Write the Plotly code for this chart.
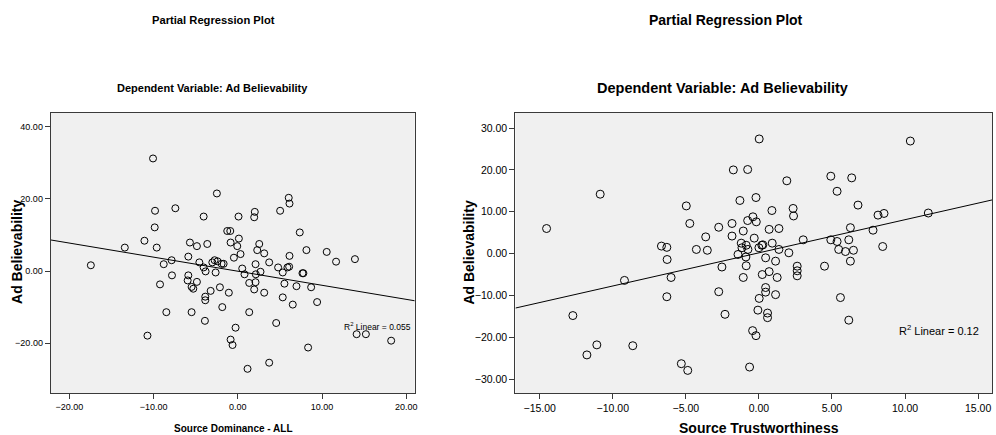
import plotly.graph_objects as go

# ---------------- data: left panel (Source Dominance - ALL) ----------------
dom_x = [-10.07, -2.49, 6.04, 6.13, -9.83, -7.42, -4.06, 0.08, 2.01, 1.94,
         5.02, -9.87, -1.26, -0.90, 7.35, -11.09, -9.63, -5.69, -4.86, -3.63,
         -0.86, 0.12, -0.07, 2.54, 2.30, 3.13, 0.32, -0.47, 6.13, 8.14,
         10.55, 11.66, -5.88, -7.86, -8.80, -4.57, -4.06, -3.83, -3.03, -2.76,
         -2.41, -1.93, -1.69, -2.64, 0.52, 0.79, 2.10, 2.13, 2.69, 3.72,
         4.78, 5.33, 5.89, 6.09, 7.67, 7.78, -7.82, -9.24, -5.88, -5.96,
         -4.86, -5.49, -5.29, -3.23, -3.87, -3.87, -2.13, -1.07, 1.35, 2.10,
         1.94, 3.13, 5.53, 6.96, 8.70, 5.33, 6.52, 9.41, -8.49, -5.49,
         -3.91, -1.85, 1.35, 4.55, -0.27, -0.86, -0.63, -10.73, 8.34, 1.15,
         3.72, -17.45, -13.42, 15.20, 14.10, 18.20, 13.90]
dom_y = [31.2, 21.5, 20.3, 18.7, 16.7, 17.4, 15.1, 15.1, 16.4, 14.9,
         16.7, 12.1, 11.1, 11.1, 10.7, 8.4, 6.5, 7.9, 6.9, 7.5,
         7.9, 9.0, 6.9, 7.5, 5.8, 4.9, 4.7, 3.7, 4.2, 5.8,
         5.3, 2.6, 4.0, 3.0, 1.9, 2.4, 1.0, -0.1, 2.4, 3.0,
         2.7, 2.0, 2.0, -0.4, 0.7, -0.9, 1.9, -0.9, -0.2, 2.4,
         1.0, -0.4, 1.0, 1.2, -0.6, -0.6, -1.2, -3.7, -1.2, -2.6,
         -3.0, -4.4, -4.9, -5.5, -7.1, -8.1, -4.5, -6.0, -3.3, -3.1,
         -5.1, -6.0, -3.5, -4.2, -4.5, -7.3, -9.3, -8.6, -11.4, -11.4,
         -13.8, -10.0, -11.4, -14.4, -15.7, -19.0, -20.5, -17.9, -21.2, -27.1,
         -25.4, 1.6, 6.5, -17.5, -17.5, -19.3, 3.3]
dom_fit = {"slope": -0.39, "intercept": -0.05}
dom_r2_label = "R<sup>2</sup> Linear = 0.055"
dom_xticks = [-20, -10, 0, 10, 20]
dom_yticks = [-20, 0, 20, 40]

# ---------------- data: right panel (Source Trustworthiness) ----------------
tru_x = [0.02, -1.75, -0.77, 1.91, 4.92, 6.35, 5.35, -1.30, -0.20, -4.97,
         6.78, 0.89, 2.34, 2.37, -4.73, -2.75, -1.84, -0.77, -0.41, -0.18,
         -1.07, 0.70, 1.37, -3.64, -1.84, -0.32, -6.67, -6.30, -4.28, -3.53,
         -1.21, -0.87, -1.16, -0.75, 0.00, 0.20, 0.27, 0.91, 1.37, 3.03,
         4.92, 5.35, 6.15, 6.26, 5.46, 5.92, 6.47, 7.81, 8.15, 8.56,
         8.47, -6.28, -1.43, -0.89, 0.46, 1.14, 2.05, -2.53, -0.87, 2.62,
         2.62, 2.62, 4.49, 6.26, -6.01, -1.07, 0.23, 0.70, 1.25, -6.30,
         -2.75, 0.46, 0.46, 0.02, 1.14, 5.58, -2.32, -0.07, 0.59, 0.59,
         6.15, -0.43, -0.20, -5.31, -4.87, -0.64, 10.36, 11.59, -14.53, -10.86,
         -9.20, -12.73, -11.77, -11.09, -8.63]
tru_y = [27.4, 20.0, 20.1, 17.4, 18.5, 18.1, 14.9, 12.7, 13.4, 11.4,
         11.6, 10.3, 10.8, 9.0, 7.2, 6.3, 7.2, 7.9, 8.8, 7.6,
         5.4, 5.8, 6.0, 4.0, 4.2, 3.7, 1.8, 1.5, 1.0, 0.8,
         2.5, 2.0, 1.4, 1.0, 1.4, 2.0, 2.1, 2.5, 1.0, 3.3,
         3.3, 2.9, 3.3, 6.2, 1.0, 0.5, 0.8, 5.6, 9.2, 9.6,
         1.7, -1.4, -0.2, -0.8, -1.0, -1.8, 0.2, -3.2, -2.9, -3.0,
         -4.1, -5.3, -3.0, -1.8, -5.7, -5.7, -5.0, -4.3, -5.7, -10.3,
         -9.1, -8.1, -9.2, -10.7, -9.8, -10.5, -14.5, -13.5, -14.2, -15.3,
         -15.9, -18.4, -19.6, -26.3, -27.9, -27.1, 26.9, 9.7, 6.0, 14.2,
         -6.4, -14.8, -24.2, -21.8, -22.0]
tru_fit = {"slope": 0.792, "intercept": 0.19}
tru_r2_label = "R<sup>2</sup> Linear = 0.12"
tru_xticks = [-15, -10, -5, 0, 5, 10, 15]
tru_yticks = [-30, -20, -10, 0, 10, 20, 30]

# ---------------- styling ----------------
NARROW = "Liberation Sans Narrow, Arial Narrow, Liberation Sans, sans-serif"
ARIAL = "Liberation Sans, Arial, sans-serif"
W, H = 996, 435

dom_xrange = [-22.2, 21.0]
dom_yrange = [-33.8, 43.8]
tru_xrange = [-16.66, 15.95]
tru_yrange = [-33.3, 33.6]

fig = go.Figure()

fig.add_trace(go.Scatter(
    x=dom_x, y=dom_y, mode="markers", xaxis="x", yaxis="y",
    marker=dict(symbol="circle-open", size=7, color="black", line=dict(width=1, color="black")),
    showlegend=False, hoverinfo="skip"))
fig.add_trace(go.Scatter(
    x=dom_xrange, y=[dom_fit["intercept"] + dom_fit["slope"] * v for v in dom_xrange],
    mode="lines", xaxis="x", yaxis="y", line=dict(color="black", width=1),
    showlegend=False, hoverinfo="skip"))

fig.add_trace(go.Scatter(
    x=tru_x, y=tru_y, mode="markers", xaxis="x2", yaxis="y2",
    marker=dict(symbol="circle-open", size=8, color="black", line=dict(width=1, color="black")),
    showlegend=False, hoverinfo="skip"))
fig.add_trace(go.Scatter(
    x=tru_xrange, y=[tru_fit["intercept"] + tru_fit["slope"] * v for v in tru_xrange],
    mode="lines", xaxis="x2", yaxis="y2", line=dict(color="black", width=1),
    showlegend=False, hoverinfo="skip"))

ydom = [(H - 393) / H, (H - 113) / H]
axis_common = dict(showgrid=False, zeroline=False, showline=True, mirror=True,
                   linecolor="#3a3a3a", linewidth=1.3, ticks="outside", ticklen=5,
                   tickcolor="#3a3a3a", tickformat=".2f")

fig.update_layout(
    width=W, height=H, margin=dict(l=0, r=0, t=0, b=0),
    paper_bgcolor="white", plot_bgcolor="#f0f0f0",
    xaxis=dict(domain=[51 / W, 416 / W], range=dom_xrange, tickvals=dom_xticks,
               tickfont=dict(family=NARROW, size=9, color="black"), anchor="y", **axis_common),
    yaxis=dict(domain=ydom, range=dom_yrange, tickvals=dom_yticks,
               tickfont=dict(family=NARROW, size=9, color="black"), anchor="x", **axis_common),
    xaxis2=dict(domain=[517 / W, 995 / W], range=tru_xrange, tickvals=tru_xticks,
                tickfont=dict(family=ARIAL, size=10.5, color="black"), anchor="y2", **axis_common),
    yaxis2=dict(domain=ydom, range=tru_yrange, tickvals=tru_yticks,
                tickfont=dict(family=ARIAL, size=10.5, color="black"), anchor="x2", **axis_common),
)

def ann(text, x, y, size, family, bold=True, angle=0, xref="paper", yref="paper"):
    fig.add_annotation(text=f"<b>{text}</b>" if bold else text, x=x, y=y, xref=xref, yref=yref,
                       showarrow=False, textangle=angle, xanchor="center", yanchor="middle",
                       font=dict(family=family, size=size, color="black"))

# left panel texts (reference uses a horizontally condensed rendering)
ann("Partial Regression Plot", 214 / W, 1 - 20 / H, 11.2, NARROW)
ann("Dependent Variable: Ad Believability", 213 / W, 1 - 88 / H, 11, NARROW)
ann("Source Dominance - ALL", 234 / W, 1 - 428 / H, 10, NARROW)
ann("Ad Believability", 17 / W, 1 - 252 / H, 14, ARIAL, angle=-90)
ann(dom_r2_label, 16.6, -15.4, 8.5, NARROW, bold=False, xref="x", yref="y")

# right panel texts
ann("Partial Regression Plot", 728 / W, 1 - 20 / H, 14, ARIAL)
ann("Dependent Variable: Ad Believability", 725 / W, 1 - 88 / H, 14.5, ARIAL)
ann("Source Trustworthiness", 761 / W, 1 - 428 / H, 14, ARIAL)
ann("Ad Believability", 470 / W, 1 - 253 / H, 14, ARIAL, angle=-90)
ann(tru_r2_label, 12.33, -18.3, 11, ARIAL, bold=False, xref="x2", yref="y2")

fig.write_html("out.html")
